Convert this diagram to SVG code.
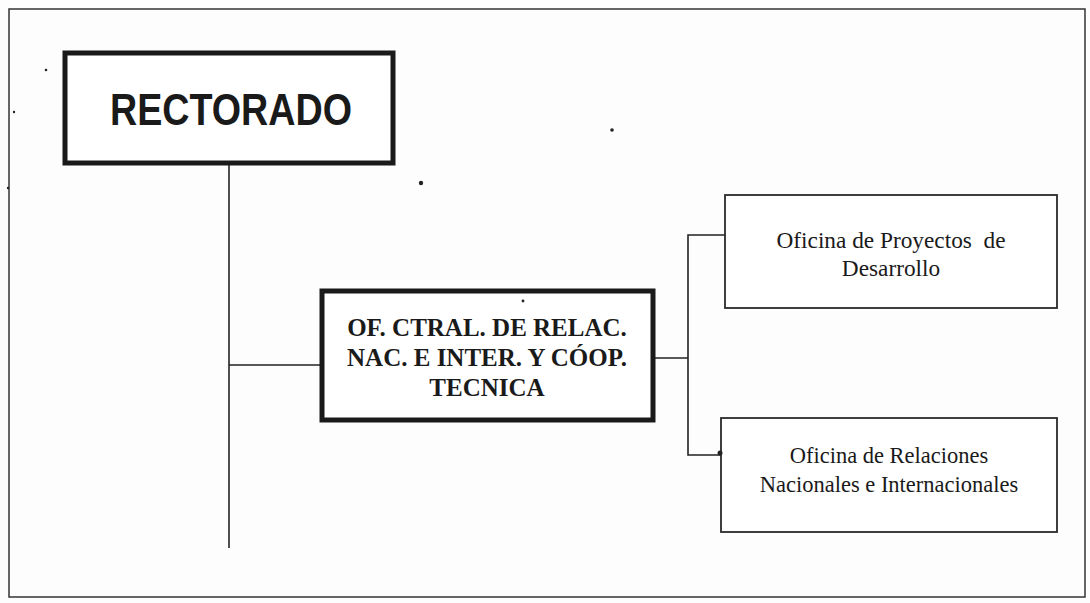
<svg xmlns="http://www.w3.org/2000/svg" width="1090" height="603" viewBox="0 0 1090 603">
<style>
.frame{fill:none;stroke:#333;stroke-width:1.5}
.thick{fill:#fff;stroke:#1a1a1a;stroke-width:5}
.thin{fill:#fff;stroke:#2a2a2a;stroke-width:1.8}
.conn{fill:none;stroke:#222;stroke-width:1.6}
.sans{font-family:"Liberation Sans",Arial,sans-serif;font-weight:bold;fill:#1a1a1a}
.serifb{font-family:"Liberation Serif","Times New Roman",serif;font-weight:bold;fill:#1a1a1a;text-anchor:middle}
.serif{font-family:"Liberation Serif","Times New Roman",serif;fill:#1a1a1a;text-anchor:middle}
.speck{fill:#222}
</style>
<rect width="1090" height="603" fill="#fdfdfd"/>
<rect class="frame" x="9" y="9" width="1076" height="588"/>
<g id="connectors">
<path class="conn" d="M229 163 V548"/>
<path class="conn" d="M229 365 H322"/>
<path class="conn" d="M653 358 H688"/>
<path class="conn" d="M725 235 H688 V455 H721"/>
</g>
<g id="rectorado">
<rect class="thick" x="65" y="53" width="328" height="110"/>
<text class="sans" x="110" y="125" font-size="45" textLength="242" lengthAdjust="spacingAndGlyphs">RECTORADO</text>
</g>
<g id="oficina-central">
<rect class="thick" x="322" y="291" width="331" height="129"/>
<text class="serifb" font-size="25"><tspan x="487" y="336">OF. CTRAL. DE RELAC.</tspan><tspan x="487" y="366">NAC. E INTER. Y CÓOP.</tspan><tspan x="487" y="396">TECNICA</tspan></text>
</g>
<g id="oficina-proyectos">
<rect class="thin" x="725" y="195" width="332" height="113"/>
<text class="serif" font-size="23.3" xml:space="preserve"><tspan x="891" y="248">Oficina de Proyectos  de</tspan><tspan x="891" y="276">Desarrollo</tspan></text>
</g>
<g id="oficina-relaciones">
<rect class="thin" x="721" y="418" width="336" height="114"/>
<text class="serif" font-size="22.5"><tspan x="889" y="463">Oficina de Relaciones</tspan><tspan x="889" y="492">Nacionales e Internacionales</tspan></text>
</g>
<g id="specks">
<circle class="speck" cx="46" cy="70" r="1.3"/>
<circle class="speck" cx="14" cy="112" r="1.2"/>
<circle class="speck" cx="8" cy="188" r="1.2"/>
<circle class="speck" cx="612" cy="130" r="1.8"/>
<circle class="speck" cx="421" cy="183" r="2.2"/>
<circle class="speck" cx="523" cy="301" r="1.4"/>
<circle class="speck" cx="720" cy="453" r="2.5"/>
</g>
</svg>
